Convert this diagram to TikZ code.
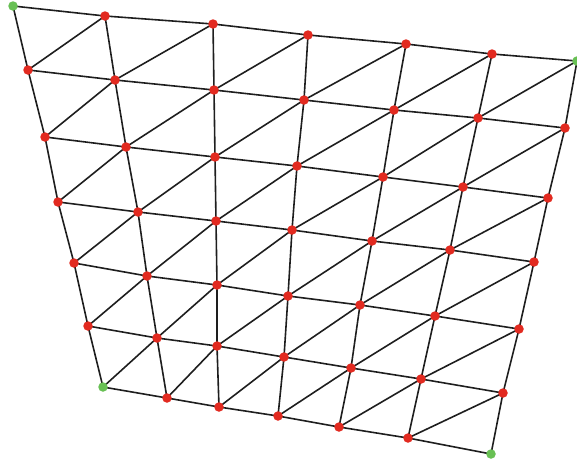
\documentclass[tikz,border=0pt]{standalone}
\usetikzlibrary{backgrounds}
\definecolor{dotred}{RGB}{226,42,32}
\definecolor{dotgreen}{RGB}{104,192,84}
\definecolor{edgecol}{RGB}{30,30,30}
\begin{document}
\begin{tikzpicture}[x=1pt,y=-1pt,
  vtx/.style={circle,inner sep=0pt,minimum size=9.5pt,fill=dotred},
  cornervtx/.style={vtx,fill=dotgreen},
  meshedge/.style={draw=edgecol,line width=1.6pt}]
\useasboundingbox (0,0) rectangle (577,461);
% row 0
\node[cornervtx] (p00) at (13,6) {};
\node[vtx] (p01) at (105,16) {};
\node[vtx] (p02) at (213,24) {};
\node[vtx] (p03) at (308,35) {};
\node[vtx] (p04) at (406,44) {};
\node[vtx] (p05) at (492,54) {};
\node[cornervtx] (p06) at (577,61) {};
% row 1
\node[vtx] (p10) at (28,70) {};
\node[vtx] (p11) at (115,80) {};
\node[vtx] (p12) at (214,90) {};
\node[vtx] (p13) at (304,100) {};
\node[vtx] (p14) at (394,110) {};
\node[vtx] (p15) at (478,118) {};
\node[vtx] (p16) at (565,128) {};
% row 2
\node[vtx] (p20) at (45,137) {};
\node[vtx] (p21) at (126,147) {};
\node[vtx] (p22) at (215,157) {};
\node[vtx] (p23) at (297,166) {};
\node[vtx] (p24) at (383,177) {};
\node[vtx] (p25) at (463,187) {};
\node[vtx] (p26) at (548,198) {};
% row 3
\node[vtx] (p30) at (58,202) {};
\node[vtx] (p31) at (138,212) {};
\node[vtx] (p32) at (216,221) {};
\node[vtx] (p33) at (292,230) {};
\node[vtx] (p34) at (372,241) {};
\node[vtx] (p35) at (450,250) {};
\node[vtx] (p36) at (534,262) {};
% row 4
\node[vtx] (p40) at (74,263) {};
\node[vtx] (p41) at (147,276) {};
\node[vtx] (p42) at (217,285) {};
\node[vtx] (p43) at (288,296) {};
\node[vtx] (p44) at (360,305) {};
\node[vtx] (p45) at (435,316) {};
\node[vtx] (p46) at (519,329) {};
% row 5
\node[vtx] (p50) at (88,326) {};
\node[vtx] (p51) at (157,338) {};
\node[vtx] (p52) at (217,346) {};
\node[vtx] (p53) at (284,357) {};
\node[vtx] (p54) at (351,368) {};
\node[vtx] (p55) at (421,379) {};
\node[vtx] (p56) at (503,393) {};
% row 6
\node[cornervtx] (p60) at (103,387) {};
\node[vtx] (p61) at (167,398) {};
\node[vtx] (p62) at (219,407) {};
\node[vtx] (p63) at (278,416) {};
\node[vtx] (p64) at (339,427) {};
\node[vtx] (p65) at (408,438) {};
\node[cornervtx] (p66) at (491,454) {};
\begin{scope}[on background layer]
  % horizontal
  \foreach \r in {0,...,6}{
    \foreach \c/\n in {0/1,1/2,2/3,3/4,4/5,5/6}{
      \draw[meshedge] (p\r\c.center) -- (p\r\n.center);
    }
  }
  % vertical
  \foreach \r/\s in {0/1,1/2,2/3,3/4,4/5,5/6}{
    \foreach \c in {0,...,6}{
      \draw[meshedge] (p\r\c.center) -- (p\s\c.center);
    }
  }
  % diagonals
  \foreach \r/\s in {0/1,1/2,2/3,3/4,4/5,5/6}{
    \foreach \c/\n in {0/1,1/2,2/3,3/4,4/5,5/6}{
      \draw[meshedge] (p\s\c.center) -- (p\r\n.center);
    }
  }
\end{scope}
\end{tikzpicture}
\end{document}
